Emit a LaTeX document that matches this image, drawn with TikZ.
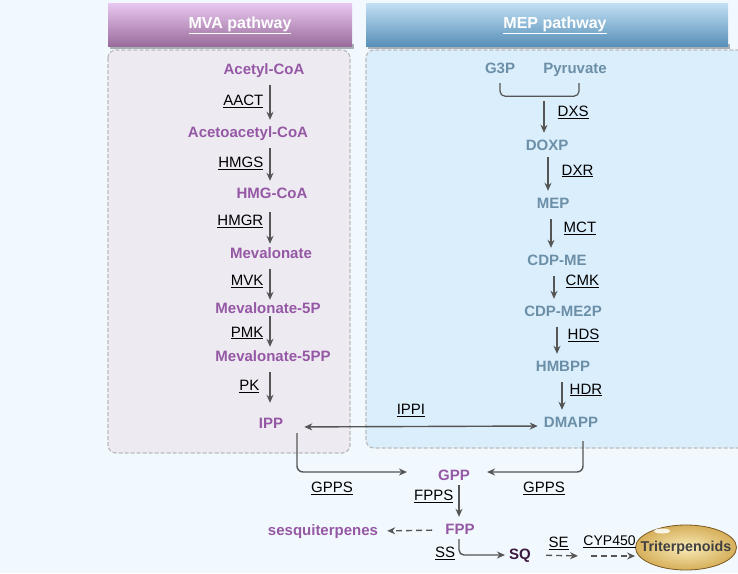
\documentclass[tikz,border=0pt]{standalone}
\usepackage{fontspec}
\setmainfont{Liberation Sans}
\usetikzlibrary{arrows.meta,positioning,shapes.geometric}
\definecolor{bgblue}{HTML}{F2F9FE}
\definecolor{mvapanel}{HTML}{EEEAF2}
\definecolor{meppanel}{HTML}{DBEEFC}
\definecolor{panelgray}{HTML}{BBBBBB}
\definecolor{mvatop}{HTML}{E8C8F0}
\definecolor{mvabottom}{HTML}{9A6C9C}
\definecolor{meptop}{HTML}{C2E0F4}
\definecolor{mepbottom}{HTML}{5890B8}
\definecolor{headshadow}{HTML}{A7AFB6}
\definecolor{mvapurple}{HTML}{9558A5}
\definecolor{mepblue}{HTML}{6C8FA8}
\definecolor{sqdark}{HTML}{3C1A40}
\definecolor{arrowgray}{HTML}{555555}
\definecolor{triinner}{HTML}{F8EBB8}
\definecolor{triouter}{HTML}{D6AF5A}
\definecolor{triborder}{HTML}{7A5A22}
\definecolor{tritext}{HTML}{404040}
\newcommand{\enzname}[1]{\underline{#1}}

\begin{document}
\begin{tikzpicture}[
    x=1pt, y=-1pt,
    cmpd/.style={font=\fontsize{15}{15}\selectfont\bfseries, inner sep=2pt, text height=11pt, text depth=3pt},
    mva/.style={cmpd, text=mvapurple},
    mep/.style={cmpd, text=mepblue},
    enz/.style={font=\fontsize{15}{15}\selectfont, inner sep=2pt},
    head/.style={font=\fontsize{16}{16}\selectfont\bfseries, text=white},
    panel/.style={draw=panelgray, line width=1.2pt, dash pattern=on 4pt off 2pt, rounded corners=8pt},
    link/.style={-{Stealth[length=8pt, width=7pt]}, line width=1.4pt, draw=arrowgray, shorten <=6pt, shorten >=4pt},
    dlink/.style={link, dash pattern=on 6pt off 4pt}
]
\useasboundingbox (0,0) rectangle (738,573);
\fill[bgblue] (0,0) rectangle (738,573);
\draw[panel, fill=mvapanel] (108,50) rectangle (350,453);
\draw[panel, fill=meppanel] (366,50) rectangle (770,448);
\fill[headshadow] (110,44) rectangle (354,49);
\fill[headshadow] (368,44) rectangle (730,49);
\shade[top color=mvatop, bottom color=mvabottom] (108,3) rectangle (352,46);
\shade[top color=meptop, bottom color=mepbottom] (366,3) rectangle (728,46);
\node[head] (mvahead) at (240,25) {\underline{MVA pathway}};
\node[head] (mephead) at (555,25) {\underline{MEP pathway}};

\node[mva] (acetyl) at (264,70) {Acetyl-CoA};
\node[mva] (acetoacetyl) at (248,133) {Acetoacetyl-CoA};
\node[mva] (hmgcoa) at (272,194) {HMG-CoA};
\node[mva] (mevalonate) at (271,254) {Mevalonate};
\node[mva] (mev5p) at (268,309) {Mevalonate-5P};
\node[mva] (mev5pp) at (273,357) {Mevalonate-5PP};
\node[mva] (ipp) at (271,424) {IPP};
\coordinate (mvaaxis) at (270,0);

\node[mep] (g3p) at (500,69) {G3P};
\node[mep] (pyruvate) at (575,69) {Pyruvate};
\coordinate (dxsin) at (544,96);
\node[mep] (doxp) at (547,146) {DOXP};
\node[mep] (mep) at (553,204) {MEP};
\node[mep] (cdpme) at (557,261) {CDP-ME};
\node[mep] (cdpme2p) at (563,312) {CDP-ME2P};
\node[mep] (hmbpp) at (563,367) {HMBPP};
\node[mep] (dmapp) at (571,423) {DMAPP};

\node[mva] (gpp) at (454,476) {GPP};
\node[mva] (fpp) at (460,530) {FPP};
\node[mva] (sesqui) at (323,531) {sesquiterpenes};
\node[cmpd, text=sqdark] (sq) at (520,555) {SQ};
\node[ellipse, draw=triborder, line width=0.8pt, inner color=triinner, outer color=triouter, minimum width=101pt, minimum height=45pt, inner xsep=-20pt, inner ysep=0pt, font=\fontsize{14.3}{14.3}\selectfont\bfseries, text=tritext] (triterp) at (686,547.5) {Triterpenoids};
\fill[white, opacity=0.85] (662,531) ellipse [x radius=8pt, y radius=2.5pt];
\node[enz] (gppsl) at (332,488) {\enzname{GPPS}};
\node[enz] (gppsr) at (544,488) {\enzname{GPPS}};
\node[enz] (ss) at (445,553) {\enzname{SS}};
\coordinate (sqmid) at (584,556);

\draw[link] (acetyl.south -| mvaaxis) -- node[enz, left=4pt] (aact) {\enzname{AACT}} (acetoacetyl.north -| mvaaxis);
\draw[link] (acetoacetyl.south -| mvaaxis) -- node[enz, left=4pt] (hmgs) {\enzname{HMGS}} (hmgcoa.north -| mvaaxis);
\draw[link, shorten <=9pt, shorten >=1pt] (hmgcoa.south -| mvaaxis) -- node[enz, left=4pt, yshift=3pt] (hmgr) {\enzname{HMGR}} (mevalonate.north -| mvaaxis);
\draw[link, shorten >=0pt] (mevalonate.south -| mvaaxis) -- node[enz, left=4pt] (mvk) {\enzname{MVK}} (mev5p.north -| mvaaxis);
\draw[link, shorten <=-2pt, shorten >=1pt] (mev5p.south -| mvaaxis) -- node[enz, left=4pt] (pmk) {\enzname{PMK}} (mev5pp.north -| mvaaxis);
\draw[link, shorten >=12pt] (mev5pp.south -| mvaaxis) -- node[enz, left=8pt, yshift=4pt] (pk) {\enzname{PK}} (ipp.north -| mvaaxis);

\draw[line width=1.2pt, draw=arrowgray, rounded corners=5pt] ([yshift=-5pt]g3p.south) |- ([xshift=4pt, yshift=-18pt]pyruvate.south) -- ([xshift=4pt, yshift=-5pt]pyruvate.south);
\draw[link, shorten <=5pt] (dxsin) -- node[enz, right=11pt, yshift=4pt] (dxs) {\enzname{DXS}} (dxsin |- doxp.north);
\draw[link, shorten <=2pt] ([xshift=1pt]doxp.south) -- node[enz, right=11pt, yshift=4pt] (dxr) {\enzname{DXR}} ([xshift=-5pt]mep.north);
\draw[link] ([xshift=-2pt]mep.south) -- node[enz, right=10pt, yshift=4pt] (mct) {\enzname{MCT}} ([xshift=-6pt]cdpme.north);
\draw[link] ([xshift=-3pt]cdpme.south) -- node[enz, right=9pt, yshift=5pt] (cmk) {\enzname{CMK}} ([xshift=-9pt]cdpme2p.north);
\draw[link] ([xshift=-6pt]cdpme2p.south) -- node[enz, right=8pt, yshift=4pt] (hds) {\enzname{HDS}} ([xshift=-6pt]hmbpp.north);
\draw[link] ([xshift=-1pt]hmbpp.south) -- node[enz, right=5pt, yshift=5pt] (hdr) {\enzname{HDR}} ([xshift=-9pt]dmapp.north);

\draw[link, {Stealth[length=8pt, width=7pt]}-{Stealth[length=8pt, width=7pt]}, shorten <=19pt, shorten >=4pt] ([yshift=-3pt]ipp.east) -- node[enz, pos=0.49, above=7pt] (ippi) {\enzname{IPPI}} ([yshift=-3pt]dmapp.west);
\draw[link, rounded corners=6pt, shorten <=0pt, shorten >=29pt] ([xshift=26pt]ipp.south) |- ([yshift=4pt]gpp.west);
\draw[link, rounded corners=6pt, shorten <=9pt, shorten >=15pt] ([xshift=12pt]dmapp.south) |- ([yshift=4pt]gpp.east);
\draw[link, shorten <=0pt] ([xshift=5pt]gpp.south) -- node[enz, left=3pt, yshift=7pt] (fpps) {\enzname{FPPS}} ([xshift=-1pt]fpp.north);
\draw[dlink, shorten <=11pt, shorten >=7pt] (fpp.west) -- (sesqui.east);
\draw[link, rounded corners=5pt, shorten <=0pt, shorten >=2pt] ([xshift=-1pt]fpp.south) |- (sq.west);
\draw[dlink, shorten <=13pt, shorten >=6pt] (sq.east) -- node[enz, above=3pt] (se) {\enzname{SE}} (sqmid);
\draw[dlink, shorten <=7pt, shorten >=0pt] (sqmid) -- node[enz, above=6pt, font=\fontsize{14}{14}\selectfont] (cyp) {\enzname{CYP450}} (sqmid -| triterp.west);
\end{tikzpicture}
\end{document}
